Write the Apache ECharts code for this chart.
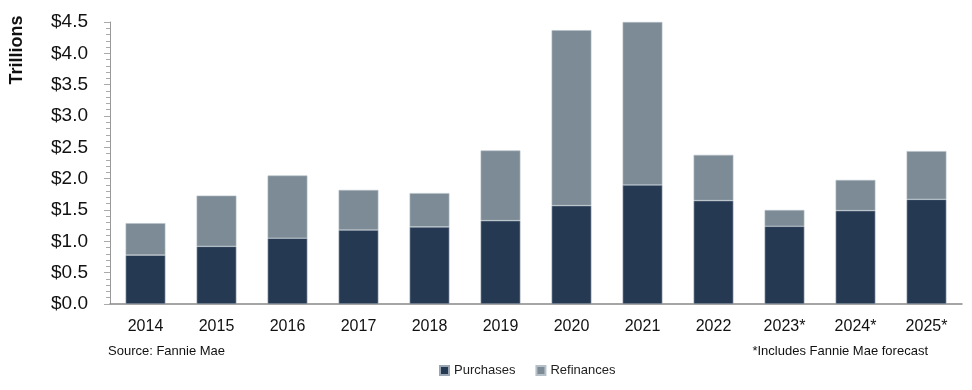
<!DOCTYPE html>
<html><head><meta charset="utf-8">
<script src="https://cdn.jsdelivr.net/npm/echarts@6/dist/echarts.min.js"></script>
<style>html,body{margin:0;padding:0;background:#fff}#c{width:972px;height:390px}</style>
</head><body><div id="c"></div>
<script>
const categories = ['2014','2015','2016','2017','2018','2019','2020','2021','2022','2023*','2024*','2025*'];
const purchases = [0.78,0.92,1.05,1.18,1.23,1.33,1.57,1.90,1.65,1.24,1.49,1.67];
const refinances = [0.51,0.81,1.00,0.64,0.54,1.12,2.80,2.60,0.73,0.26,0.49,0.77];
const yTicks = ['$0.0','$0.5','$1.0','$1.5','$2.0','$2.5','$3.0','$3.5','$4.0','$4.5'];

const FONT = "'Liberation Sans Narrow','Arial Narrow','Liberation Sans',Arial,sans-serif";
const chart = echarts.init(document.getElementById('c'));
chart.setOption({
  animation: false,
  textStyle: {fontFamily: FONT},
  grid: {left: 110, right: 10, top: 22, bottom: 86},
  legend: {
    bottom: 8, left: 434, itemWidth: 9, itemHeight: 9, itemGap: 20,
    icon: 'rect',
    textStyle: {fontFamily: FONT, fontSize: 13, color: '#222'},
    data: ['Purchases','Refinances']
  },
  xAxis: {
    type: 'category', data: categories,
    axisLine: {lineStyle: {color: '#888', width: 1.5}},
    axisTick: {show: false},
    axisLabel: {fontFamily: FONT, fontSize: 16, color: '#111', margin: 15}
  },
  yAxis: {
    type: 'value', min: 0, max: 4.5, interval: 0.5,
    axisLine: {show: true, lineStyle: {color: '#999'}},
    axisTick: {show: true, length: 6, lineStyle: {color: '#aaa'}},
    minorTick: {show: true, splitNumber: 5, length: 4, lineStyle: {color: '#aaa'}},
    splitLine: {show: false},
    axisLabel: {fontFamily: FONT, fontSize: 19, color: '#111', margin: 22,
      formatter: function (v) { return yTicks[Math.round(v / 0.5)]; }}
  },
  series: [
    {name: 'Purchases', type: 'bar', stack: 't', data: purchases, barWidth: '56%',
      itemStyle: {color: '#263952', borderColor: '#9aa6b4', borderWidth: 0.6}},
    {name: 'Refinances', type: 'bar', stack: 't', data: refinances, barWidth: '56%',
      itemStyle: {color: '#7c8b96', borderColor: '#b5c0c8', borderWidth: 0.6}}
  ],
  graphic: [
    {type: 'text', x: 17, y: 50, rotation: Math.PI / 2,
      style: {text: 'Trillions', font: 'bold 18px ' + FONT, fill: '#111', textAlign: 'center', textVerticalAlign: 'middle'}},
    {type: 'text', left: 108, top: 345, style: {text: 'Source: Fannie Mae', font: '13px ' + FONT, fill: '#111'}},
    {type: 'text', right: 44, top: 345, style: {text: '*Includes Fannie Mae forecast', font: '13px ' + FONT, fill: '#111'}}
  ]
});
</script></body></html>
